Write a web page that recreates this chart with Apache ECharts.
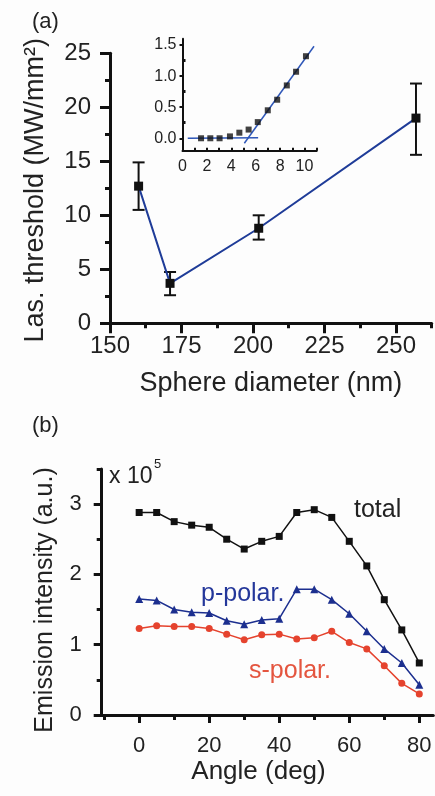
<!DOCTYPE html>
<html>
<head>
<meta charset="utf-8">
<script src="https://cdn.jsdelivr.net/npm/echarts@6/dist/echarts.min.js"></script>
<style>
html,body{margin:0;padding:0;background:#fdfdfd;}
#chart{width:435px;height:796px;}
</style>
</head>
<body>
<div id="chart"></div>
<script>
// ---- Panel (a): lasing threshold vs sphere diameter ----
const sizeNm = [160, 171, 202, 257];
const threshold = [12.7, 3.7, 8.8, 19.0];
const errLow = [10.5, 2.6, 7.75, 15.6];
const errHigh = [14.9, 4.75, 10.0, 22.2];
const aXLabels = [150, 175, 200, 225, 250];
const aXMinor = [162.5, 187.5, 212.5, 237.5, 262.5];
const aYLabels = [0, 5, 10, 15, 20, 25];
const aYMinor = [2.5, 7.5, 12.5, 17.5, 22.5];

// ---- Inset: output vs pump ----
const insetX = [1.52, 2.28, 3.04, 3.89, 4.66, 5.42, 6.17, 6.99, 7.76, 8.55, 9.31, 10.12];
const insetY = [0, 0, 0, 0.03, 0.09, 0.14, 0.26, 0.45, 0.62, 0.85, 1.07, 1.32];
const fitBelowX = [0.43, 6.2];
const fitBelowY = [0, 0.01];
const fitAboveX = [5.07, 10.78];
const fitAboveY = [-0.08, 1.48];
const inXLabels = [0, 2, 4, 6, 8, 10];
const inXTicks = [0, 1, 2, 3, 4, 5, 6, 7, 8, 9, 10, 11];
const inYLabels = [0, 0.5, 1.0, 1.5];
const inYMinor = [0.25, 0.75, 1.25];

// ---- Panel (b): emission intensity vs angle (x 10^5) ----
const angles = [0, 5, 10, 15, 20, 25, 30, 35, 40, 45, 50, 55, 60, 65, 70, 75, 80];
const total  = [2.88, 2.88, 2.75, 2.70, 2.67, 2.50, 2.36, 2.47, 2.54, 2.88, 2.92, 2.81, 2.47, 2.12, 1.64, 1.21, 0.74];
const pPolar = [1.65, 1.63, 1.50, 1.46, 1.45, 1.34, 1.29, 1.35, 1.37, 1.79, 1.79, 1.64, 1.44, 1.19, 0.94, 0.74, 0.43];
const sPolar = [1.23, 1.27, 1.26, 1.26, 1.23, 1.15, 1.07, 1.14, 1.15, 1.08, 1.10, 1.19, 1.03, 0.94, 0.70, 0.45, 0.30];
const bXLabels = [0, 20, 40, 60, 80];
const bXMinor = [-10, 10, 30, 50, 70];
const bYLabels = [0, 1, 2, 3];
const bYMinor = [0.5, 1.5, 2.5, 3.5];

const FONT = "'Liberation Sans', Arial, sans-serif";
const zip = (a, b) => a.map((v, i) => [v, b[i]]);

function mainAxis(o) {
  return Object.assign({
    type: 'value',
    splitLine: { show: false },
    axisLine: { show: true, onZero: false, lineStyle: { color: '#111', width: 3 } },
    axisTick: { show: true, inside: false, length: 10, lineStyle: { color: '#111', width: 3 } },
    axisLabel: { color: '#222', fontFamily: FONT, fontSize: 24 },
    nameTextStyle: { color: '#222', fontFamily: FONT, fontSize: 26 }
  }, o);
}
function minorAxis(o, ticks, len, inside) {
  return Object.assign({
    type: 'value',
    offset: 0,
    splitLine: { show: false },
    axisLine: { show: false, onZero: false },
    axisLabel: { show: false },
    axisTick: { show: true, inside: !!inside, length: len, customValues: ticks, lineStyle: { color: '#111', width: 3 } }
  }, o);
}

const chart = echarts.init(document.getElementById('chart'), null, { renderer: 'canvas' });

const option = {
  animation: false,
  backgroundColor: '#fdfdfd',
  grid: [
    { left: 110, right: 3.3, top: 53.3, bottom: 472.7 },
    { left: 182.5, right: 118.3, top: 38.8, bottom: 645.3 },
    { left: 101.7, right: 1.7, top: 468.9, bottom: 81 }
  ],
  xAxis: [
    mainAxis({ gridIndex: 0, position: 'bottom', min: 150, max: 262.5,
      name: 'Sphere diameter (nm)', nameLocation: 'middle', nameGap: 47,
      nameTextStyle: { color: '#222', fontFamily: FONT, fontSize: 27 },
      axisTick: { show: true, length: 10, customValues: aXLabels, lineStyle: { color: '#111', width: 3 } },
      axisLabel: { color: '#222', fontFamily: FONT, fontSize: 24, margin: 11, customValues: aXLabels } }),
    minorAxis({ gridIndex: 0, position: 'bottom', min: 150, max: 262.5 }, aXMinor, 5),
    mainAxis({ gridIndex: 1, position: 'bottom', min: 0, max: 11,
      axisLine: { show: true, onZero: false, lineStyle: { color: '#111', width: 2 } },
      axisTick: { show: true, inside: true, length: 3, customValues: inXTicks, lineStyle: { color: '#111', width: 2 } },
      axisLabel: { color: '#222', fontFamily: FONT, fontSize: 16, margin: 8, customValues: inXLabels } }),
    mainAxis({ gridIndex: 2, position: 'bottom', min: -10.7, max: 84,
      name: 'Angle (deg)', nameLocation: 'middle', nameGap: 44,
      nameTextStyle: { color: '#222', fontFamily: FONT, fontSize: 26, padding: [0, 18, 0, 0] },
      axisTick: { show: true, length: 8, customValues: bXLabels, lineStyle: { color: '#111', width: 3 } },
      axisLabel: { color: '#222', fontFamily: FONT, fontSize: 22, margin: 20, customValues: bXLabels } }),
    minorAxis({ gridIndex: 2, position: 'bottom', min: -10.7, max: 84 }, bXMinor, 5)
  ],
  yAxis: [
    mainAxis({ gridIndex: 0, position: 'left', min: 0, max: 25,
      name: 'Las. threshold (MW/mm²)', nameLocation: 'middle', nameGap: 61, nameRotate: 90,
      nameTextStyle: { color: '#222', fontFamily: FONT, fontSize: 27, padding: [0, 4, 0, 0] },
      axisTick: { show: true, length: 10, customValues: aYLabels, lineStyle: { color: '#111', width: 3 } },
      axisLabel: { color: '#222', fontFamily: FONT, fontSize: 24, margin: 19, customValues: aYLabels } }),
    minorAxis({ gridIndex: 0, position: 'left', min: 0, max: 25 }, aYMinor, 5),
    mainAxis({ gridIndex: 1, position: 'left', min: -0.2, max: 1.6,
      axisLine: { show: true, onZero: false, lineStyle: { color: '#111', width: 2 } },
      axisTick: { show: true, length: 3, customValues: inYLabels, lineStyle: { color: '#111', width: 2 } },
      axisLabel: { color: '#222', fontFamily: FONT, fontSize: 16, margin: 6, customValues: inYLabels,
        formatter: v => Number(v).toFixed(1) } }),
    minorAxis({ gridIndex: 1, position: 'left', min: -0.2, max: 1.6 }, inYMinor, 3, true),
    mainAxis({ gridIndex: 2, position: 'left', min: 0, max: 3.5,
      name: 'Emission intensity (a.u.)', nameLocation: 'middle', nameGap: 44, nameRotate: 90,
      nameTextStyle: { color: '#222', fontFamily: FONT, fontSize: 25, padding: [0, 16, 0, 0] },
      axisTick: { show: true, length: 8, customValues: bYLabels, lineStyle: { color: '#111', width: 3 } },
      axisLabel: { color: '#222', fontFamily: FONT, fontSize: 22, margin: 20, customValues: bYLabels } }),
    minorAxis({ gridIndex: 2, position: 'left', min: 0, max: 3.5 }, bYMinor, 5)
  ],
  series: [
    {
      type: 'custom', xAxisIndex: 0, yAxisIndex: 0, z: 3,
      data: sizeNm.map((x, i) => [x, errLow[i], errHigh[i]]),
      renderItem: (params, api) => {
        const lo = api.coord([api.value(0), api.value(1)]);
        const hi = api.coord([api.value(0), api.value(2)]);
        const w = 6;
        const st = { stroke: '#111', lineWidth: 2, fill: null };
        return { type: 'group', children: [
          { type: 'line', shape: { x1: lo[0], y1: lo[1], x2: hi[0], y2: hi[1] }, style: st },
          { type: 'line', shape: { x1: lo[0] - w, y1: lo[1], x2: lo[0] + w, y2: lo[1] }, style: st },
          { type: 'line', shape: { x1: hi[0] - w, y1: hi[1], x2: hi[0] + w, y2: hi[1] }, style: st }
        ] };
      }
    },
    {
      type: 'line', xAxisIndex: 0, yAxisIndex: 0, z: 4,
      data: zip(sizeNm, threshold),
      symbol: 'rect', symbolSize: 9,
      itemStyle: { color: '#111' },
      lineStyle: { color: '#1f3c98', width: 2 }
    },
    {
      type: 'line', xAxisIndex: 2, yAxisIndex: 2, showSymbol: false, symbol: 'none',
      data: zip(fitBelowX, fitBelowY), lineStyle: { color: '#2f57b8', width: 1.5 }
    },
    {
      type: 'line', xAxisIndex: 2, yAxisIndex: 2, showSymbol: false, symbol: 'none',
      data: zip(fitAboveX, fitAboveY), lineStyle: { color: '#2f57b8', width: 1.5 }
    },
    {
      type: 'scatter', xAxisIndex: 2, yAxisIndex: 2, z: 5,
      data: zip(insetX, insetY), symbol: 'rect', symbolSize: 6,
      itemStyle: { color: '#111' }
    },
    {
      type: 'line', xAxisIndex: 3, yAxisIndex: 4,
      data: zip(angles, total), symbol: 'rect', symbolSize: 7,
      itemStyle: { color: '#111' }, lineStyle: { color: '#111', width: 1.5 }
    },
    {
      type: 'line', xAxisIndex: 3, yAxisIndex: 4,
      data: zip(angles, pPolar), symbol: 'triangle', symbolSize: 8,
      itemStyle: { color: '#1c2f8f' }, lineStyle: { color: '#1c2f8f', width: 1.5 }
    },
    {
      type: 'line', xAxisIndex: 3, yAxisIndex: 4,
      data: zip(angles, sPolar), symbol: 'circle', symbolSize: 7,
      itemStyle: { color: '#e5432e' }, lineStyle: { color: '#e5432e', width: 1.5 }
    }
  ],
  graphic: [
    { type: 'text', style: { x: 32, y: 22, text: '(a)', font: '22px ' + FONT, fill: '#222', verticalAlign: 'middle' } },
    { type: 'text', style: { x: 32, y: 426, text: '(b)', font: '22px ' + FONT, fill: '#222', verticalAlign: 'middle' } },
    { type: 'text', style: { x: 109, y: 477, text: 'x 10', font: '23px ' + FONT, fill: '#222', verticalAlign: 'middle' } },
    { type: 'text', style: { x: 154, y: 464, text: '5', font: '13px ' + FONT, fill: '#222', verticalAlign: 'middle' } },
    { type: 'text', style: { x: 354, y: 510, text: 'total', font: '25px ' + FONT, fill: '#222', verticalAlign: 'middle' } },
    { type: 'text', style: { x: 201, y: 594, text: 'p-polar.', font: '25px ' + FONT, fill: '#24379a', verticalAlign: 'middle' } },
    { type: 'text', style: { x: 249, y: 671, text: 's-polar.', font: '25px ' + FONT, fill: '#e4553f', verticalAlign: 'middle' } }
  ]
};
chart.setOption(option);
</script>
</body>
</html>
